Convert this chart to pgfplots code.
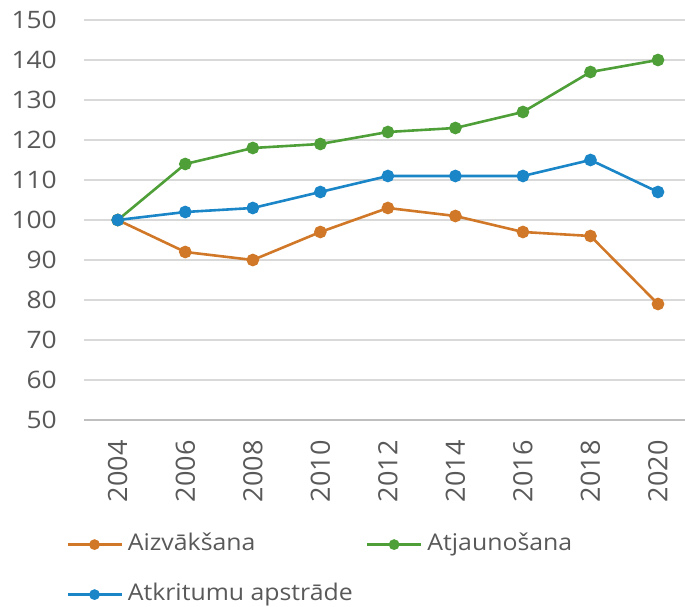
\documentclass[border=0pt]{standalone}
\usepackage{fontspec}
\setmainfont[FakeStretch=1.08]{Open Sans}
\newfontfamily\xlfont[FakeStretch=1.02]{Open Sans}
\newfontfamily\ylfont[FakeStretch=1.1]{Open Sans}
\usepackage{pgfplots}
\pgfplotsset{compat=1.18}
\definecolor{cOr}{HTML}{D07828}
\definecolor{cGr}{HTML}{4E9F38}
\definecolor{cBl}{HTML}{1A86C8}
\definecolor{cTx}{HTML}{595959}
\definecolor{cGrid}{HTML}{D9D9D9}
\definecolor{cAx}{HTML}{BFBFBF}
\begin{document}
\begin{tikzpicture}[x=1pt,y=1pt]
\path[use as bounding box] (0,0) rectangle (685,607);
\begin{axis}[
  at={(84pt,187pt)}, anchor=south west,
  scale only axis, width=601pt, height=400pt,
  xmin=-0.5, xmax=8.4, ymin=50, ymax=150,
  ytick={60,70,...,150},
  extra y ticks={50},
  extra y tick style={grid style={color=cAx, line width=1.6pt}},
  xtick={0,...,8},
  xticklabels={2004,2006,2008,2010,2012,2014,2016,2018,2020},
  axis line style={draw=none},
  major tick length=0pt,
  ymajorgrids,
  grid style={color=cGrid, line width=1.3pt},
  /pgf/number format/assume math mode=true,
  yticklabel style={anchor=east, inner sep=0pt, font=\ylfont\fontsize{24}{28}\selectfont, text=cTx},
  yticklabel shift=27pt,
  xticklabel style={rotate=90, anchor=east, inner sep=0pt, font=\xlfont\fontsize{26.5}{30}\selectfont, text=cTx},
  xticklabel shift=20pt,
  clip=false,
  legend columns=2,
  legend cell align=left,
  legend style={at={(-0.0349,-0.276)}, anchor=north west, draw=none, fill=none,
    font=\fontsize{23}{28}\selectfont, text=cTx,
    nodes={inner sep=0pt, text height=18pt, text depth=6pt},
    row sep=26pt,
    /tikz/column 1/.style={column sep=5pt},
    /tikz/column 3/.style={column sep=5pt}},
  legend image code/.code={\draw[#1, mark size=4pt, line width=2.6pt, mark repeat=2, mark phase=2] plot coordinates {(0pt,0pt) (27pt,0pt) (54pt,0pt)};},
  every axis plot/.append style={line width=2.6pt, mark=*, mark size=5pt},
]
\addplot[color=cOr, mark options={fill=cOr}] coordinates {(0,100) (1,92) (2,90) (3,97) (4,103) (5,101) (6,97) (7,96) (8,79)};
\addplot[color=cGr, mark options={fill=cGr}] coordinates {(0,100) (1,114) (2,118) (3,119) (4,122) (5,123) (6,127) (7,137) (8,140)};
\addplot[color=cBl, mark options={fill=cBl}] coordinates {(0,100) (1,102) (2,103) (3,107) (4,111) (5,111) (6,111) (7,115) (8,107)};
\legend{\makebox[238pt][l]{Aizvākšana},Atjaunošana,Atkritumu apstrāde}
\end{axis}
\end{tikzpicture}
\end{document}
